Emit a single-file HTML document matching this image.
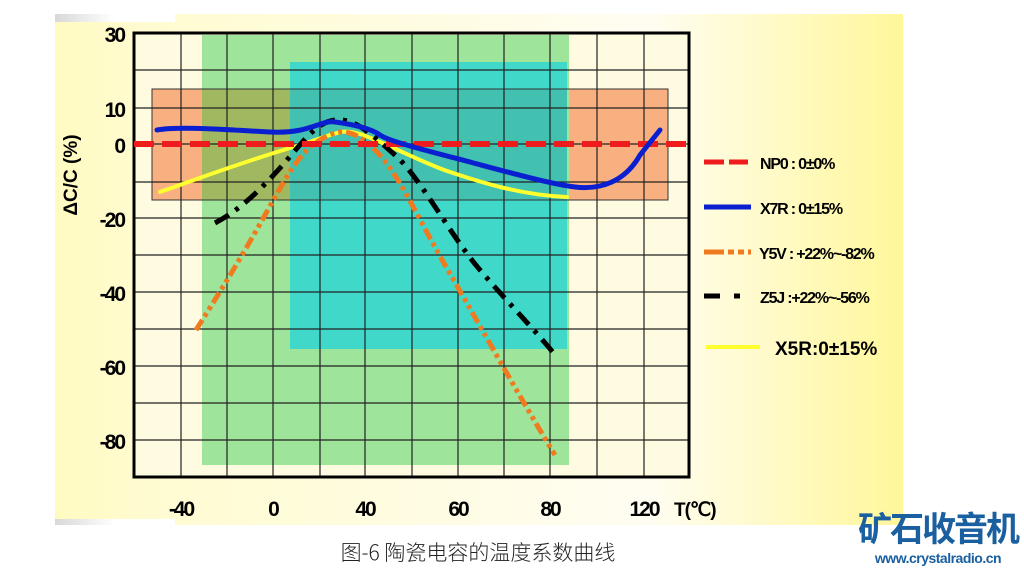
<!DOCTYPE html>
<html><head><meta charset="utf-8"><style>
body{margin:0;width:1024px;height:571px;background:#fff;overflow:hidden;font-family:"Liberation Sans",sans-serif}
</style></head><body>
<svg width="1024" height="571" viewBox="0 0 1024 571" xmlns="http://www.w3.org/2000/svg">
<defs>
<linearGradient id="bg" x1="0" x2="1" y1="0" y2="0">
<stop offset="0" stop-color="#fffbc0"/><stop offset="0.1" stop-color="#fffbd0"/>
<stop offset="0.7" stop-color="#fffdf2"/><stop offset="1" stop-color="#fff79a"/>
</linearGradient>
<linearGradient id="top" x1="0" x2="1"><stop offset="0" stop-color="#d8d8d8"/><stop offset="0.5" stop-color="#fff"/></linearGradient>
</defs>
<rect x="55" y="14" width="848" height="511" fill="url(#bg)"/>
<rect x="55" y="14" width="120" height="8" fill="url(#top)"/>
<rect x="55" y="519" width="120" height="6" fill="url(#top)"/>
<rect x="134" y="33" width="555" height="444" fill="#fffbe0"/>
<rect x="202" y="35" width="367" height="430" fill="#9ee49a"/>
<rect x="290" y="62" width="277" height="287" fill="#40d8c8"/>
<rect x="152" y="89" width="50" height="111" fill="#f9b080"/>
<rect x="569" y="89" width="99" height="111" fill="#f9b080"/>
<rect x="202" y="89" width="88" height="111" fill="#a0b860"/>
<rect x="290" y="89" width="277" height="111" fill="#42c0b0"/>
<rect x="152" y="89" width="516" height="111" fill="none" stroke="#333" stroke-width="1"/>
<g stroke="#222" stroke-width="1.2">
<line x1="134" x2="689" y1="70" y2="70"/><line x1="134" x2="689" y1="108" y2="108"/>
<line x1="134" x2="689" y1="144" y2="144"/><line x1="134" x2="689" y1="182" y2="182"/>
<line x1="134" x2="689" y1="218" y2="218"/><line x1="134" x2="689" y1="255" y2="255"/>
<line x1="134" x2="689" y1="292" y2="292"/><line x1="134" x2="689" y1="329" y2="329"/>
<line x1="134" x2="689" y1="366" y2="366"/><line x1="134" x2="689" y1="403" y2="403"/>
<line x1="134" x2="689" y1="440" y2="440"/>
<line x1="181" x2="181" y1="33" y2="477"/><line x1="227" x2="227" y1="33" y2="477"/>
<line x1="273" x2="273" y1="33" y2="477"/><line x1="320" x2="320" y1="33" y2="477"/>
<line x1="365" x2="365" y1="33" y2="477"/><line x1="412" x2="412" y1="33" y2="477"/>
<line x1="458" x2="458" y1="33" y2="477"/><line x1="504" x2="504" y1="33" y2="477"/>
<line x1="550" x2="550" y1="33" y2="477"/><line x1="597" x2="597" y1="33" y2="477"/>
<line x1="644" x2="644" y1="33" y2="477"/>
</g>
<rect x="134" y="33" width="555" height="444" fill="none" stroke="#000" stroke-width="3"/>
<g fill="none" stroke-linejoin="round">
<path d="M160,192 C200,178 240,163 290,148 S340,128 360,134 S420,162 450,172 S520,195 567,197" stroke="#ffff30" stroke-width="4" stroke-linecap="round"/>
<path d="M196,330 C215,300 240,260 265,215 S300,152 320,140 S352,128 375,150 S420,222 445,265 S520,398 555,455" stroke="#f07a20" stroke-width="5" stroke-dasharray="12 4 4 4 4 4"/>
<path d="M215,223 C240,210 260,190 280,168 S315,122 335,120 S370,133 395,155 S450,235 480,270 S535,330 556,356" stroke="#000" stroke-width="5" stroke-dasharray="16 8 4 8"/>
<path d="M134,144 L690,144" stroke="#ee1c1c" stroke-width="6" stroke-dasharray="20 8"/>
<path d="M157,130 C180,126 230,130 270,132 S320,120 335,122 S370,128 380,135 S440,154 470,162 S550,184 575,187 S625,182 640,155 L660,130" stroke="#0a20d0" stroke-width="5" stroke-linecap="round"/>
</g>
<g font-size="21" font-weight="bold" text-anchor="end" fill="#000" style="letter-spacing:-2px">
<text x="124" y="42">30</text><text x="124" y="117">10</text><text x="124" y="153">0</text>
<text x="124" y="227">-20</text><text x="124" y="301">-40</text><text x="124" y="375">-60</text><text x="124" y="449">-80</text>
</g>
<text transform="translate(77,175) rotate(-90)" font-size="19" font-weight="bold" text-anchor="middle">ΔC/C (%)</text>
<g font-size="21" font-weight="bold" text-anchor="middle" style="letter-spacing:-2px">
<text x="181" y="516">-40</text><text x="273" y="516">0</text><text x="365" y="516">40</text>
<text x="458" y="516">60</text><text x="550" y="516">80</text><text x="644" y="516">120</text>
</g>
<text x="674" y="516" font-size="19" font-weight="bold" style="letter-spacing:-1px">T(℃)</text>
<g stroke-width="5">
<line x1="704" x2="748" y1="162" y2="162" stroke="#ee1c1c" stroke-dasharray="20 5"/>
<line x1="704" x2="751" y1="207" y2="207" stroke="#0a20d0"/>
<line x1="704" x2="751" y1="252" y2="252" stroke="#f07a20" stroke-dasharray="20 4 6 4 6 4"/>
<line x1="704" x2="720" y1="296" y2="296" stroke="#000"/><line x1="734" x2="740" y1="296" y2="296" stroke="#000"/>
<line x1="706" x2="760" y1="347" y2="347" stroke="#ffff30" stroke-width="4"/>
</g>
<g font-size="16" font-weight="bold" style="letter-spacing:-1.2px">
<text x="760" y="169">NP0 : 0±0%</text><text x="760" y="214">X7R : 0±15%</text>
<text x="759" y="259">Y5V : +22%~-82%</text><text x="760" y="303">Z5J :+22%~-56%</text>
</g>
<text x="775" y="355" font-size="19" font-weight="bold">X5R:0±15%</text>
<text x="478" y="560" font-size="21" text-anchor="middle" font-family="'Noto Sans CJK SC',sans-serif" font-weight="300" fill="#222">图-6 陶瓷电容的温度系数曲线</text>
<text x="938" y="541" font-size="34" font-weight="bold" text-anchor="middle" fill="#1a5fa0" font-family="'Noto Sans CJK SC',sans-serif" style="letter-spacing:-2px">矿石收音机</text>
<text x="938" y="563" font-size="14" font-weight="bold" text-anchor="middle" fill="#1a5fa0" style="letter-spacing:-0.5px">www.crystalradio.cn</text>
</svg>
</body></html>
